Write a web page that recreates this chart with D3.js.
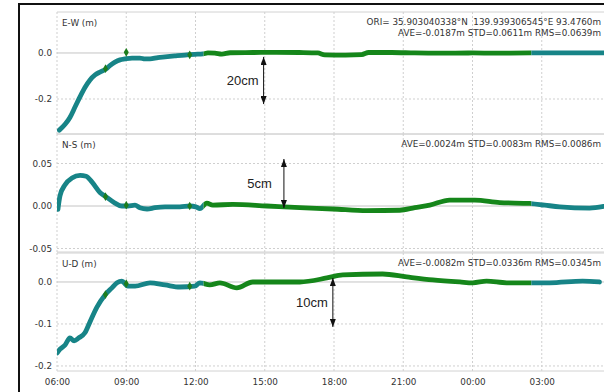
<!DOCTYPE html>
<html>
<head>
<meta charset="utf-8">
<script src="https://cdn.jsdelivr.net/npm/d3@7"></script>
<style>
  body { margin: 0; background: #fff; }
  svg { display: block; }
  text { font-family: "DejaVu Sans", Verdana, sans-serif; }
  text.bar-label { font-family: "Liberation Sans", Arial, sans-serif; }
</style>
</head>
<body>
<svg id="chart" width="604" height="392"></svg>
<script>
// time in hours (values over 24 are the next day)
const xTicks = [6, 9, 12, 15, 18, 21, 24, 27]

// solution mode changes (teal -> green -> teal)
const modeBreaks = [12.35, 26.55]
const modeColors = ["#178487", "#15861a", "#178487"]

// E-W
const ewTime = [6.1, 6.35, 6.56, 6.78, 7.0, 7.21, 7.43, 7.65, 7.86, 8.12, 8.29, 8.51, 8.73, 8.94, 9.25,
  9.59, 9.81, 10.03, 10.37, 10.68, 11.1, 11.54, 11.97, 12.32, 12.54, 12.84, 13.14, 13.5, 14.5, 15.5,
  16.5, 17.3, 17.6, 18.5, 19.2, 19.5, 20.5, 21.5, 22.5, 24.0, 25.0, 26.5, 27.5, 29.0, 30.0]
const ewVal = [-0.335, -0.31, -0.28, -0.235, -0.19, -0.15, -0.117, -0.095, -0.083, -0.07, -0.055, -0.04, -0.03, -0.026, -0.022,
  -0.022, -0.026, -0.026, -0.02, -0.017, -0.013, -0.009, -0.006, -0.004, 0.0, -0.001, -0.005, 0.001, 0.002, 0.003,
  0.002, 0.0, -0.008, -0.009, -0.007, 0.002, 0.002, 0.0, -0.001, 0.0, -0.001, 0.0, 0.0, 0.0, 0.001]
const ewTicks = [0.0, -0.2]
const ewDomain = [-0.352, 0.178]
const ewStats = ["ORI= 35.903040338°N  139.939306545°E 93.4760m", "AVE=-0.0187m STD=0.0611m RMS=0.0639m"]

// N-S
const nsTime = [6.04, 6.13, 6.35, 6.65, 7.0, 7.26, 7.52, 7.86, 8.12, 8.51, 8.81, 9.07, 9.38, 9.59, 9.9,
  10.24, 10.68, 11.32, 11.76, 12.02, 12.19, 12.49, 12.75, 13.62, 15.09, 16.52, 17.95, 19.42, 20.85, 21.5,
  22.15, 23.01, 24.1, 25.18, 26.48, 27.13, 27.78, 29.07, 29.68]
const nsVal = [-0.004, 0.012, 0.025, 0.033, 0.036, 0.035, 0.028, 0.016, 0.011, 0.0035, 0.0, 0.0, 0.001, -0.002, -0.0035,
  -0.002, -0.001, -0.001, 0.0, -0.001, -0.003, 0.0035, 0.001, 0.002, 0.0, -0.002, -0.0035, -0.0055, -0.005, -0.002,
  0.001, 0.007, 0.007, 0.004, 0.003, 0.001, -0.001, -0.0025, -0.0005]
const nsTicks = [0.05, 0.0, -0.05]
const nsDomain = [-0.0541, 0.0847]
const nsStats = ["AVE=0.0024m STD=0.0083m RMS=0.0086m"]

// U-D
const udTime = [6.0, 6.13, 6.35, 6.56, 6.74, 6.95, 7.21, 7.43, 7.73, 8.08, 8.38, 8.6, 8.81, 9.07, 9.38,
  10.03, 10.68, 11.32, 11.97, 12.19, 12.62, 13.06, 13.79, 14.48, 15.09, 16.52, 17.69, 18.38, 20.11, 21.15,
  22.28, 23.45, 24.01, 24.61, 25.48, 26.48, 27.34, 28.77, 29.5]
const udVal = [-0.169, -0.16, -0.15, -0.133, -0.14, -0.133, -0.121, -0.095, -0.06, -0.031, -0.014, -0.002, 0.002, -0.01, -0.01,
  -0.002, -0.007, -0.012, -0.01, -0.002, -0.007, -0.002, -0.014, 0.0, 0.0, 0.0, 0.0095, 0.017, 0.019, 0.012,
  0.005, 0.0, -0.002, 0.002, -0.002, -0.002, -0.002, 0.002, 0.0]
const udTicks = [0.0, -0.1, -0.2]
const udDomain = [-0.212, 0.069]
const udStats = ["AVE=-0.0082m STD=0.0336m RMS=0.0345m"]

// single fixes shown as dots inside the teal part
const fixTime = [8.1, 9.0, 11.75]
const ewFix = [-0.068, 0.003, -0.008]
const nsFix = [0.011, 0.001, 0.0]
const udFix = [-0.03, -0.004, -0.01]

// scale bars
const arrowPanel = [0, 1, 2]
const arrowTime = [14.95, 15.83, 17.95]
const arrowFrom = [-0.017, 0.0553, 0.0095]
const arrowTo = [-0.222, -0.0024, -0.107]
const arrowLabel = ["20cm", "5cm", "10cm"]

const svg = d3.select("#chart")
const plotLeft = 57
const panelTop = [12, 134, 253]
const panelBottom = [134, 252, 371]

const x = d3.scaleLinear().domain([6, 30]).range([plotLeft, 611])
const fmtHour = h => String(h % 24).padStart(2, "0") + ":00"

// outer frame
svg.append("rect")
  .attr("x", 19).attr("y", 4).attr("width", 620).attr("height", 420)
  .attr("fill", "none").attr("stroke", "#111").attr("stroke-width", 2)

const defs = svg.append("defs")
defs.append("marker")
  .attr("id", "head")
  .attr("viewBox", "0 0 8 6")
  .attr("refX", 8).attr("refY", 3)
  .attr("markerWidth", 8).attr("markerHeight", 6)
  .attr("markerUnits", "userSpaceOnUse")
  .attr("orient", "auto-start-reverse")
  .append("path").attr("d", "M0,0L8,3L0,6Z").attr("fill", "#111")

const panels = [
  { name: "E-W (m)", time: ewTime, val: ewVal, ticks: ewTicks, digits: 1, domain: ewDomain, stats: ewStats, fix: ewFix },
  { name: "N-S (m)", time: nsTime, val: nsVal, ticks: nsTicks, digits: 2, domain: nsDomain, stats: nsStats, fix: nsFix },
  { name: "U-D (m)", time: udTime, val: udVal, ticks: udTicks, digits: 1, domain: udDomain, stats: udStats, fix: udFix }
]

const modeEdges = [6].concat(modeBreaks, [30])

panels.forEach((p, i) => {
  const top = panelTop[i], bottom = panelBottom[i]
  const y = d3.scaleLinear().domain(p.domain).range([bottom, top])
  const g = svg.append("g")

  // grid
  const grid = g.append("g").attr("class", "grid")
  grid.selectAll(".vg").data(xTicks).enter().append("line")
    .attr("x1", d => x(d)).attr("x2", d => x(d))
    .attr("y1", top).attr("y2", bottom)
    .attr("stroke", "#cfcfcf").attr("stroke-dasharray", "2,2")
  grid.selectAll(".hg").data(p.ticks).enter().append("line")
    .attr("x1", plotLeft).attr("x2", 604)
    .attr("y1", d => y(d)).attr("y2", d => y(d))
    .attr("stroke", d => d === 0 ? "#c4c4c4" : "#cfcfcf")
    .attr("stroke-dasharray", d => d === 0 ? null : "2,2")

  g.append("line")
    .attr("x1", plotLeft).attr("x2", 604).attr("y1", top).attr("y2", top)
    .attr("stroke", "#d2d2d2")
  g.append("line")
    .attr("x1", plotLeft).attr("x2", 604).attr("y1", bottom).attr("y2", bottom)
    .attr("stroke", "#d2d2d2")

  // y axis labels
  const yAxis = g.append("g")
    .attr("transform", "translate(" + (plotLeft - 5) + ",0)")
    .call(d3.axisLeft(y).tickValues(p.ticks).tickSize(0).tickPadding(0)
      .tickFormat(d => d.toFixed(p.digits)))
  yAxis.select(".domain").remove()
  yAxis.selectAll("text").attr("font-size", 8.8).attr("fill", "#333")

  // trace, coloured by solution mode
  const pts = p.time.map((t, k) => [t, p.val[k]])
  const line = d3.line().x(d => x(d[0])).y(d => y(d[1])).curve(d3.curveMonotoneX)
  modeColors.forEach((c, m) => {
    const id = "clip" + i + "_" + m
    defs.append("clipPath").attr("id", id).append("rect")
      .attr("x", x(modeEdges[m])).attr("y", top)
      .attr("width", x(modeEdges[m + 1]) - x(modeEdges[m])).attr("height", bottom - top)
    g.append("path")
      .datum(pts)
      .attr("clip-path", "url(#" + id + ")")
      .attr("d", line)
      .attr("fill", "none")
      .attr("stroke", c)
      .attr("stroke-width", 4.8)
      .attr("stroke-linejoin", "round")
      .attr("stroke-linecap", "round")
  })

  g.selectAll(".fix").data(fixTime).enter().append("path")
    .attr("transform", (d, k) => "translate(" + x(d) + "," + y(p.fix[k]) + ")")
    .attr("d", d3.symbol(d3.symbolDiamond, 22))
    .attr("fill", "#1c7d1c")

  // labels
  g.append("text").attr("x", plotLeft + 5).attr("y", top + 14)
    .attr("font-size", 8.8).attr("fill", "#333").text(p.name)
  p.stats.forEach((s, k) => {
    g.append("text").attr("x", 601).attr("y", top + 13 + k * 11)
      .attr("text-anchor", "end").attr("font-size", 8.8).attr("fill", "#333")
      .style("white-space", "pre").text(s)
  })

  // scale bars
  arrowPanel.forEach((ap, k) => {
    if (ap !== i) return
    g.append("line")
      .attr("x1", x(arrowTime[k])).attr("x2", x(arrowTime[k]))
      .attr("y1", y(arrowFrom[k])).attr("y2", y(arrowTo[k]))
      .attr("stroke", "#111").attr("stroke-width", 1)
      .attr("marker-start", "url(#head)").attr("marker-end", "url(#head)")
    g.append("text")
      .attr("class", "bar-label")
      .attr("x", x(arrowTime[k]) - (k === 1 ? 12 : 5))
      .attr("y", (y(arrowFrom[k]) + y(arrowTo[k])) / 2)
      .attr("dy", "0.35em")
      .attr("text-anchor", "end")
      .attr("font-size", 13).attr("fill", "#222")
      .text(arrowLabel[k])
  })
})

// time axis
const xAxis = svg.append("g")
  .attr("transform", "translate(0," + panelBottom[2] + ")")
  .call(d3.axisBottom(x).tickValues(xTicks).tickSize(0).tickPadding(8).tickFormat(fmtHour))
xAxis.select(".domain").remove()
xAxis.selectAll("text").attr("font-size", 8.8).attr("fill", "#333")
</script>
</body>
</html>
